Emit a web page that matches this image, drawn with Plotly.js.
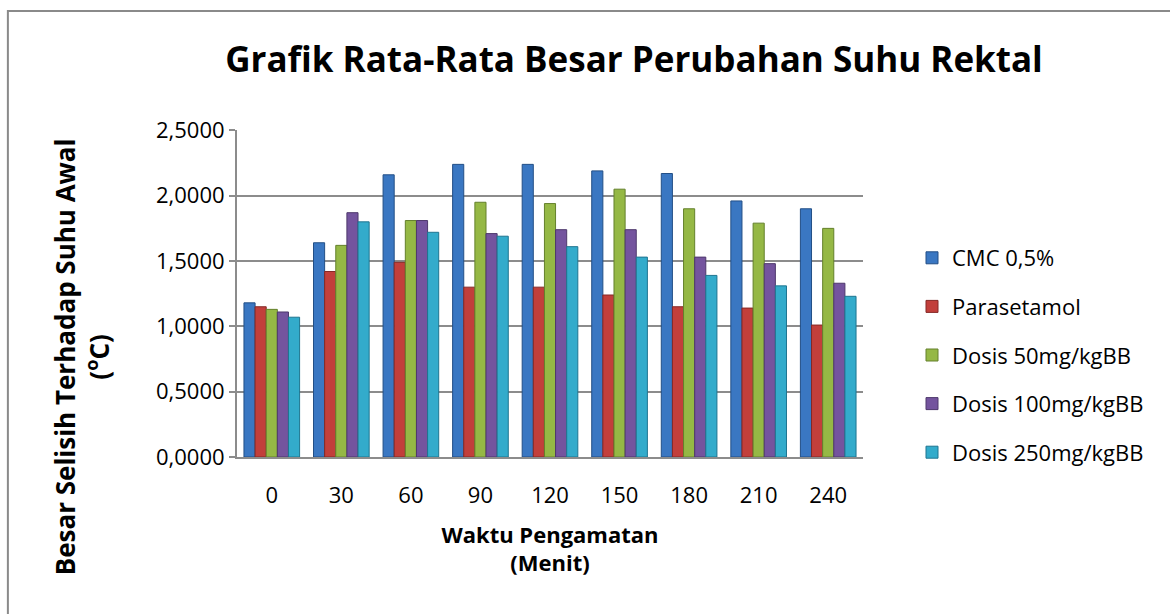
<!DOCTYPE html>
<html>
<head>
<meta charset="utf-8">
<script src="https://cdn.plot.ly/plotly-3.0.1.min.js"></script>
<style>html,body{margin:0;padding:0;background:#fff;}#chart{width:1170px;height:614px;}</style>
</head>
<body>
<div id="chart"></div>
<script>
const categories = ['0','30','60','90','120','150','180','210','240'];
const seriesNames = ['CMC 0,5%','Parasetamol','Dosis 50mg/kgBB','Dosis 100mg/kgBB','Dosis 250mg/kgBB'];
const cmc      = [1.18, 1.64, 2.16, 2.24, 2.24, 2.19, 2.17, 1.96, 1.90];
const parasetamol = [1.15, 1.42, 1.49, 1.30, 1.30, 1.24, 1.15, 1.14, 1.01];
const dosis50  = [1.13, 1.62, 1.81, 1.95, 1.94, 2.05, 1.90, 1.79, 1.75];
const dosis100 = [1.11, 1.87, 1.81, 1.71, 1.74, 1.74, 1.53, 1.48, 1.33];
const dosis250 = [1.07, 1.80, 1.72, 1.69, 1.61, 1.53, 1.39, 1.31, 1.23];
const yTicks = [0, 0.5, 1.0, 1.5, 2.0, 2.5];

const seriesValues = [cmc, parasetamol, dosis50, dosis100, dosis250];
const colors = ['#3a77c2', '#c23f3b', '#95b845', '#74549e', '#33abcb'];
const edgeColors = ['#234f86', '#852826', '#64802c', '#4e386c', '#1f7590'];
const FONT = '"Open Sans", "Noto Sans", sans-serif';

const traces = seriesNames.map((name, i) => ({
  type: 'bar',
  name: name,
  x: categories,
  y: seriesValues[i],
  legendgroup: 'g' + i,
  marker: {color: colors[i], line: {color: edgeColors[i], width: 1}},
  hoverinfo: 'x+y+name'
}));

const layout = {
  width: 1170,
  height: 614,
  paper_bgcolor: '#ffffff',
  plot_bgcolor: '#ffffff',
  separators: ',.',
  margin: {l: 237, r: 307, t: 130, b: 157},
  barmode: 'group',
  bargap: 0.2,
  bargroupgap: 0,
  font: {family: FONT, color: '#000', size: 22},
  title: {
    text: '<b>Grafik Rata-Rata Besar Perubahan Suhu Rektal</b>',
    font: {family: FONT, size: 35, color: '#000'},
    xref: 'container', yref: 'container',
    x: 634/1170, y: 1 - 60/614, xanchor: 'center', yanchor: 'middle'
  },
  xaxis: {
    type: 'category',
    showline: true,
    linecolor: '#8c8c8c',
    linewidth: 2,
    ticks: '',
    ticklabelstandoff: 18,
    tickfont: {family: FONT, size: 22, color: '#000'},
    title: {
      text: '<b>Waktu Pengamatan<br>(Menit)</b>',
      font: {family: FONT, size: 22, color: '#000'},
      standoff: 19
    },
    fixedrange: true
  },
  yaxis: {
    range: [0, 2.503],
    tickvals: yTicks,
    tickformat: '.4f',
    showline: true,
    linecolor: '#8c8c8c',
    linewidth: 2,
    ticks: 'outside',
    ticklen: 6,
    tickcolor: '#8c8c8c',
    tickwidth: 2,
    showgrid: true,
    gridcolor: '#8c8c8c',
    gridwidth: 2,
    zeroline: false,
    tickfont: {family: FONT, size: 22, color: '#000'},
    fixedrange: true
  },
  legend: {
    x: 912/1170, xref: 'container',
    y: 1 - 237/614, yref: 'container',
    xanchor: 'left', yanchor: 'top',
    font: {family: FONT, size: 22, color: '#000'},
    tracegroupgap: 17,
    itemwidth: 30,
    bgcolor: 'rgba(0,0,0,0)'
  },
  annotations: [{
    text: '<b>Besar Selisih Terhadap Suhu Awal<br>(<sup>o</sup>C)</b>',
    textangle: -90,
    xref: 'paper', yref: 'paper',
    x: -0.247, y: 0.306,
    xanchor: 'center', yanchor: 'middle',
    showarrow: false,
    font: {family: FONT, size: 26, color: '#000'}
  }],
  shapes: [{
    type: 'rect', xref: 'paper', yref: 'paper',
    x0: -0.366, x1: 1.6, y0: -0.6, y1: 1.364,
    line: {color: '#8a8a8a', width: 2},
    fillcolor: 'rgba(0,0,0,0)',
    layer: 'below'
  }],
  showlegend: true
};

Plotly.newPlot('chart', traces, layout, {displayModeBar: false, staticPlot: true});
</script>
</body>
</html>
